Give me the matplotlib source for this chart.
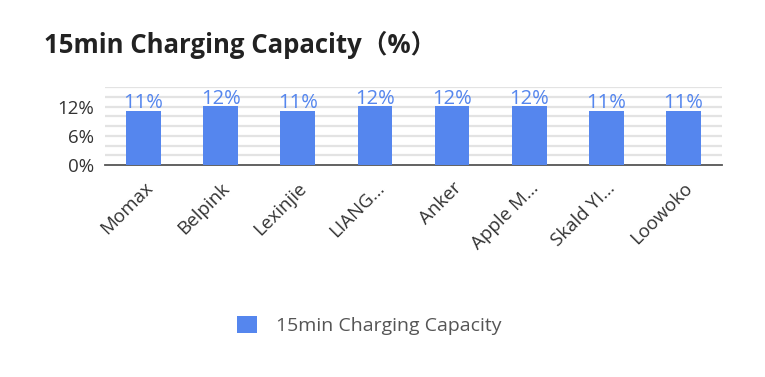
import matplotlib.pyplot as plt
import numpy as np

brands = ["Momax", "Belpink", "Lexinjie", "LIANG...", "Anker", "Apple M...", "Skald YI...", "Loowoko"]
capacity = [11.1, 12.1, 11.1, 12.1, 12.1, 12.1, 11.1, 11.1]
yticks = [0, 6, 12]

plt.rcParams['font.family'] = ['Open Sans', 'Noto Sans CJK SC', 'DejaVu Sans']

bar_color = "#5586EE"

fig = plt.figure(figsize=(7.65, 3.77), dpi=100)
ax = fig.add_axes([0.137, 0.562, 0.807, 0.207])

x = np.arange(len(brands))
bars = ax.bar(x, capacity, width=0.45, color=bar_color, zorder=3,
              label="15min Charging Capacity")
for b, v in zip(bars, capacity):
    ax.text(b.get_x() + b.get_width() / 2, v - 0.5, f"{v:.0f}%",
            ha="center", va="bottom", color=bar_color, fontsize=14.5, zorder=4)

ax.set_xlim(-0.5, len(brands) - 0.5)
ax.set_ylim(0, 16)
for g in np.arange(2, 17, 2):
    ax.axhline(g, color="#e3e3e3", lw=1.6, zorder=1)
ax.set_yticks(yticks)
ax.set_yticklabels([f"{t}%" for t in yticks])
ax.set_xticks(x)
ax.set_xticklabels(brands, rotation=45, ha="right", rotation_mode="anchor")
ax.tick_params(axis="both", length=0, labelsize=13.5, colors="#333333")
ax.tick_params(axis="x", pad=10)
ax.tick_params(axis="y", pad=8)
for s in ["top", "right", "left"]:
    ax.spines[s].set_visible(False)
ax.spines["bottom"].set_color("#555555")
ax.spines["bottom"].set_linewidth(1.3)

fig.text(0.058, 0.882, "15min Charging Capacity（%）", fontsize=18.5,
         fontweight="bold", color="#222222", va="center")

fig.legend(handles=[bars], loc="center", bbox_to_anchor=(0.483, 0.137),
           frameon=False, fontsize=14, handlelength=1.0, handleheight=1.0,
           handletextpad=1.0, labelcolor="#555555")

fig.savefig("out.png", dpi=100)
